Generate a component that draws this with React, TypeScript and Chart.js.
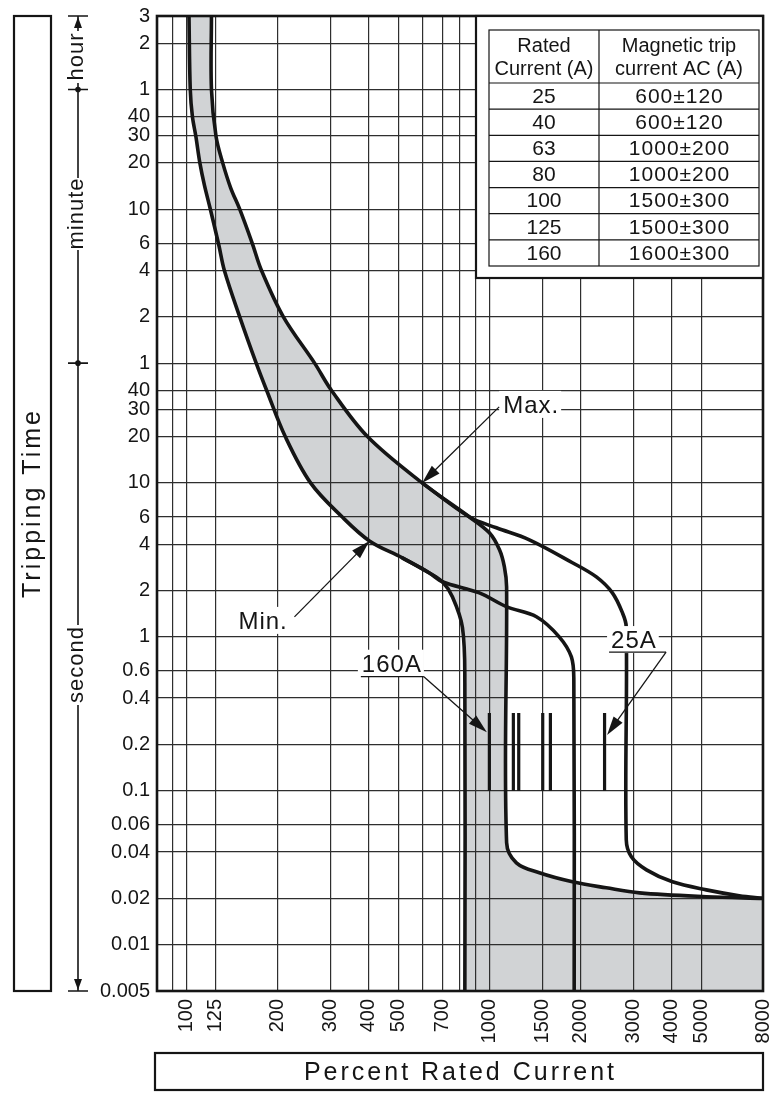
import React, { useEffect, useRef } from 'react';
import { Chart, registerables } from 'chart.js';

Chart.register(...registerables);

// ---------- axis limits ----------
const PCT_MIN = 80;
const PCT_MAX = 8000;
const TIME_MIN = 0.005;
const TIME_MAX = 10800;

// ---------- x axis (percent rated current) ----------
const xGridValues = [80, 90, 100, 125, 200, 300, 400, 500, 600, 700, 800, 900, 1000, 1500, 2000, 3000, 4000, 5000, 8000];
const xTickLabels = [100, 125, 200, 300, 400, 500, 700, 1000, 1500, 2000, 3000, 4000, 5000, 8000];

// ---------- y axis (tripping time, seconds) ----------
const yTickValues = [10800, 7200, 3600, 2400, 1800, 1200, 600, 360, 240, 120, 60, 40, 30, 20, 10, 6, 4, 2, 1, 0.6, 0.4, 0.2, 0.1, 0.06, 0.04, 0.02, 0.01, 0.005];
const yTickLabels = ['3', '2', '1', '40', '30', '20', '10', '6', '4', '2', '1', '40', '30', '20', '10', '6', '4', '2', '1', '0.6', '0.4', '0.2', '0.1', '0.06', '0.04', '0.02', '0.01', '0.005'];
const timeUnitMarks = [3600, 60]; // 1 hour, 1 minute

// ---------- curves: [percent, seconds] ----------
const minCurve160: [number, number][] = [
  [102, 10800], [103, 3600], [104.7, 2400], [107.5, 1780], [110.8, 1200], [114.7, 860], [120, 600],
  [128, 350], [133.5, 240], [150, 120], [170, 60], [184, 40], [212, 20], [257, 10], [327, 6],
  [402, 4.2], [516, 3.26], [634, 2.6], [700, 2.28], [755, 1.82], [815, 1.15], [830, 0.5], [830, 0.005],
];
const minCurve25: [number, number][] = [
  [516, 3.26], [634, 2.6], [700, 2.28], [927, 1.93], [1138, 1.57], [1430, 1.35], [1700, 1.0],
  [1865, 0.74], [1900, 0.526], [1905, 0.005],
];
const maxCurve160: [number, number][] = [
  [121, 10800], [121, 3600], [125.3, 1780], [131.8, 1200], [140, 827], [150, 600], [165, 360],
  [177, 240], [209, 120], [265, 60], [301, 40], [396, 20], [600, 10], [860, 6.0], [1000, 4.74],
  [1080, 3.68], [1121, 2.85], [1140, 2.11], [1140, 0.046], [1228, 0.034], [1462, 0.0293],
  [1880, 0.0256], [2430, 0.0234], [3130, 0.0217], [5200, 0.0205], [8000, 0.02],
];
const maxCurve25: [number, number][] = [
  [600, 10], [860, 6.0], [1055, 5.11], [1355, 4.27], [1880, 3.03], [2255, 2.45], [2547, 1.93],
  [2750, 1.43], [2830, 1.16], [2830, 0.048], [2942, 0.0372], [3300, 0.0306], [4020, 0.0256],
  [5200, 0.0227], [6680, 0.0208], [8000, 0.02],
];

// short marks: nominal magnetic trip points (percent) between two times
const tripBarCurrents = [1000, 1200, 1250, 1500, 1590, 2400];
const tripBarTimes = [0.1, 0.32];

// ---------- table ----------
const tableHeadRated = ['Rated', 'Current (A)'];
const tableHeadTrip = ['Magnetic trip', 'current AC (A)'];
const ratedCurrents = ['25', '40', '63', '80', '100', '125', '160'];
const magneticTrip = ['600±120', '600±120', '1000±200', '1000±200', '1500±300', '1500±300', '1600±300'];

const yTitle = 'Tripping Time';
const xTitle = 'Percent Rated Current';
const unitLabels = ['hour', 'minute', 'second'];

const FONT = "'Liberation Sans', Arial, Helvetica, sans-serif";
const INK = '#151515';
const GRID = '#2e2e2e';
const BAND = '#d1d3d5';

const pts = (a: [number, number][]) => a.map(([x, y]) => ({ x, y }));

function drawArrow(ctx: CanvasRenderingContext2D, x1: number, y1: number, x2: number, y2: number) {
  const len = 19, hw = 5.5;
  const ang = Math.atan2(y2 - y1, x2 - x1);
  const c = Math.cos(ang), s = Math.sin(ang);
  ctx.beginPath();
  ctx.moveTo(x1, y1);
  ctx.lineTo(x2 - c * len * 0.7, y2 - s * len * 0.7);
  ctx.stroke();
  ctx.beginPath();
  ctx.moveTo(x2, y2);
  ctx.lineTo(x2 - c * len - s * hw, y2 - s * len + c * hw);
  ctx.lineTo(x2 - c * len + s * hw, y2 - s * len - c * hw);
  ctx.closePath();
  ctx.fill();
}

function boxedText(ctx: CanvasRenderingContext2D, text: string, x: number, baseline: number) {
  ctx.font = `24px ${FONT}`;
  (ctx as any).letterSpacing = '1px';
  const w = ctx.measureText(text).width;
  ctx.fillStyle = '#fff';
  ctx.fillRect(x - 4, baseline - 22, w + 6, 27);
  ctx.fillStyle = INK;
  ctx.textAlign = 'left';
  ctx.textBaseline = 'alphabetic';
  ctx.fillText(text, x, baseline);
  (ctx as any).letterSpacing = '0px';
  return w;
}

function rotatedText(ctx: CanvasRenderingContext2D, text: string, x: number, y: number, font: string, spacing: number) {
  ctx.save();
  ctx.translate(x, y);
  ctx.rotate(-Math.PI / 2);
  ctx.font = font;
  (ctx as any).letterSpacing = spacing + 'px';
  ctx.textAlign = 'center';
  ctx.textBaseline = 'middle';
  ctx.fillStyle = INK;
  ctx.fillText(text, spacing / 2, 0);
  ctx.restore();
}

const overlayPlugin = {
  id: 'overlay',
  afterDraw(chart: any) {
    const { ctx, chartArea: a, scales } = chart;
    const px = (v: number) => scales.x.getPixelForValue(v);
    const py = (v: number) => scales.y.getPixelForValue(v);
    ctx.save();

    // plot frame
    ctx.strokeStyle = INK;
    ctx.lineWidth = 2.6;
    ctx.strokeRect(a.left, a.top, a.right - a.left, a.bottom - a.top);

    // ---- table ----
    const tL = 476, tT = a.top, tR = a.right, tB = 278;
    ctx.fillStyle = '#fff';
    ctx.fillRect(tL, tT, tR - tL, tB - tT);
    ctx.lineWidth = 2.2;
    ctx.strokeRect(tL, tT, tR - tL, tB - tT);
    const iL = 489, iR = 759, iT = 30, hB = 83, iB = 266, colX = 599;
    const rowH = (iB - hB) / ratedCurrents.length;
    ctx.lineWidth = 1.2;
    ctx.strokeRect(iL, iT, iR - iL, iB - iT);
    ctx.beginPath();
    ctx.moveTo(colX, iT); ctx.lineTo(colX, iB);
    for (let i = 0; i < ratedCurrents.length; i++) {
      const yy = hB + i * rowH;
      ctx.moveTo(iL, yy); ctx.lineTo(iR, yy);
    }
    ctx.stroke();
    ctx.fillStyle = INK;
    ctx.textAlign = 'center';
    ctx.textBaseline = 'alphabetic';
    ctx.font = `20px ${FONT}`;
    const c1 = (iL + colX) / 2, c2 = (colX + iR) / 2;
    tableHeadRated.forEach((t, i) => ctx.fillText(t, c1, 52 + i * 23));
    tableHeadTrip.forEach((t, i) => ctx.fillText(t, c2, 52 + i * 23));
    ctx.font = `21px ${FONT}`;
    ctx.textBaseline = 'middle';
    ratedCurrents.forEach((t, i) => {
      const yy = hB + (i + 0.5) * rowH + 1;
      ctx.fillText(t, c1, yy);
      (ctx as any).letterSpacing = '1px';
      ctx.fillText(magneticTrip[i], c2 + 0.5, yy);
      (ctx as any).letterSpacing = '0px';
    });

    // ---- annotations ----
    ctx.strokeStyle = INK;
    ctx.fillStyle = INK;
    ctx.lineWidth = 1.3;
    // Max.
    {
      const tx = px(600), ty = py(10);
      boxedText(ctx, 'Max.', tx + 81, ty - 70);
      ctx.fillStyle = INK;
      drawArrow(ctx, tx + 77, ty - 76, tx, ty);
    }
    // Min.
    {
      const tx = px(402), ty = py(4.2);
      boxedText(ctx, 'Min.', tx - 131, ty + 88);
      ctx.fillStyle = INK;
      drawArrow(ctx, tx - 75, ty + 76, tx, ty);
    }
    // 160A
    {
      const tx = px(1000) - 2.5, ty = py(0.24);
      const ex = tx - 63, ey = ty - 55.5;
      boxedText(ctx, '160A', ex - 62, ey - 5);
      ctx.fillStyle = INK;
      ctx.beginPath(); ctx.moveTo(ex - 63, ey); ctx.lineTo(ex, ey); ctx.stroke();
      drawArrow(ctx, ex, ey, tx, ty);
    }
    // 25A
    {
      const tx = px(2400) + 2.5, ty = py(0.23);
      const ex = tx + 59, ey = ty - 83;
      boxedText(ctx, '25A', ex - 55, ey - 4);
      ctx.fillStyle = INK;
      ctx.beginPath(); ctx.moveTo(ex - 57, ey); ctx.lineTo(ex, ey); ctx.stroke();
      drawArrow(ctx, ex, ey, tx, ty);
    }

    // ---- left title box ----
    ctx.lineWidth = 2.2;
    ctx.strokeStyle = INK;
    ctx.strokeRect(14, a.top, 37, a.bottom - a.top);
    rotatedText(ctx, yTitle, 33, (a.top + a.bottom) / 2 + 1, `25px ${FONT}`, 3);

    // ---- time-unit bracket ----
    const bx = 78;
    const yTop = py(TIME_MAX), yBot = py(TIME_MIN);
    const yH = py(timeUnitMarks[0]), yM = py(timeUnitMarks[1]);
    ctx.lineWidth = 1.6;
    ctx.beginPath();
    ctx.moveTo(bx, yTop); ctx.lineTo(bx, yBot);
    ctx.moveTo(bx - 10, yTop); ctx.lineTo(bx + 10, yTop);
    ctx.moveTo(bx - 10, yBot); ctx.lineTo(bx + 10, yBot);
    ctx.moveTo(bx - 10, yH); ctx.lineTo(bx + 10, yH);
    ctx.moveTo(bx - 10, yM); ctx.lineTo(bx + 10, yM);
    ctx.stroke();
    ctx.fillStyle = INK;
    [yH, yM].forEach((yy) => { ctx.beginPath(); ctx.arc(bx, yy, 2.8, 0, Math.PI * 2); ctx.fill(); });
    // arrowheads
    ctx.beginPath(); ctx.moveTo(bx, yTop + 1); ctx.lineTo(bx - 4, yTop + 12); ctx.lineTo(bx + 4, yTop + 12); ctx.closePath(); ctx.fill();
    ctx.beginPath(); ctx.moveTo(bx, yBot - 1); ctx.lineTo(bx - 4, yBot - 12); ctx.lineTo(bx + 4, yBot - 12); ctx.closePath(); ctx.fill();
    const unitCenters = [57, 214, 665];
    const unitHalf = [26, 36, 40];
    unitLabels.forEach((t, i) => {
      ctx.fillStyle = '#fff';
      ctx.fillRect(bx - 12, unitCenters[i] - unitHalf[i], 24, unitHalf[i] * 2);
      rotatedText(ctx, t, bx - 1, unitCenters[i], `22px ${FONT}`, 1);
    });

    // ---- bottom title box ----
    ctx.lineWidth = 2.2;
    ctx.strokeStyle = INK;
    ctx.strokeRect(155, 1053, a.right - 155, 37);
    ctx.font = `25px ${FONT}`;
    (ctx as any).letterSpacing = '3px';
    ctx.fillStyle = INK;
    ctx.textAlign = 'center';
    ctx.textBaseline = 'middle';
    ctx.fillText(xTitle, (155 + a.right) / 2 + 1.5, 1073);
    (ctx as any).letterSpacing = '0px';

    ctx.restore();
  },
};

export default function App() {
  const ref = useRef<HTMLCanvasElement>(null);
  useEffect(() => {
    document.body.style.margin = '0';
    const revMax = [...maxCurve160].reverse();
    const lastMin = minCurve160[minCurve160.length - 1];
    const band: [number, number][] = [
      ...minCurve160, lastMin, [PCT_MAX, TIME_MIN], [PCT_MAX, TIME_MIN], revMax[0], ...revMax,
    ];
    const lineDs = (data: [number, number][]) => ({
      data: pts(data),
      borderColor: INK,
      borderWidth: 3.6,
      fill: false,
      tension: 0.35,
      pointRadius: 0,
    });
    const datasets: any[] = [
      { data: pts(band), borderWidth: 0, borderColor: 'rgba(0,0,0,0)', backgroundColor: BAND, fill: 'shape', tension: 0.35, pointRadius: 0 },
      lineDs(minCurve160),
      lineDs(minCurve25),
      lineDs(maxCurve160),
      lineDs(maxCurve25),
      ...tripBarCurrents.map((c) => ({
        data: tripBarTimes.map((t) => ({ x: c, y: t })),
        borderColor: INK, borderWidth: 3.2, fill: false, pointRadius: 0, tension: 0, borderCapStyle: 'butt',
      })),
    ];
    const chart = new Chart(ref.current as HTMLCanvasElement, {
      type: 'line',
      data: { datasets },
      options: {
        responsive: false,
        animation: false,
        devicePixelRatio: 1,
        events: [],
        layout: { padding: { left: 0, top: 16, right: 9, bottom: 42 } },
        plugins: {
          legend: { display: false },
          tooltip: { enabled: false },
          filler: { drawTime: 'beforeDraw' },
        } as any,
        scales: {
          x: {
            type: 'logarithmic',
            min: PCT_MIN,
            max: PCT_MAX,
            afterBuildTicks: (s: any) => { s.ticks = xGridValues.map((v) => ({ value: v })); },
            afterFit: (s: any) => { s.height = 60; s.paddingLeft = 0; s.paddingRight = 0; },
            grid: { color: GRID, lineWidth: 1.2, drawTicks: false },
            border: { display: false },
            ticks: {
              autoSkip: false,
              minRotation: 90,
              maxRotation: 90,
              padding: 8,
              color: INK,
              font: { family: "'Liberation Sans Narrow', 'Liberation Sans', sans-serif", size: 20 },
              callback: (v: any) => (xTickLabels.includes(Number(v)) ? String(v) : ''),
            },
          },
          y: {
            type: 'logarithmic',
            min: TIME_MIN,
            max: TIME_MAX,
            afterBuildTicks: (s: any) => { s.ticks = yTickValues.map((v) => ({ value: v })); },
            afterFit: (s: any) => { s.width = 157; s.paddingTop = 0; s.paddingBottom = 0; },
            grid: { color: GRID, lineWidth: 1.2, drawTicks: false },
            border: { display: false },
            ticks: {
              autoSkip: false,
              padding: 7,
              color: INK,
              font: { family: FONT, size: 20 },
              callback: (_v: any, i: number) => yTickLabels[i],
            },
          },
        } as any,
      },
      plugins: [overlayPlugin],
    } as any);
    return () => chart.destroy();
  }, []);
  return (
    <div style={{ position: 'absolute', left: 0, top: 0, width: 772, height: 1093, background: '#fff' }}>
      <canvas ref={ref} width={772} height={1093} style={{ width: 772, height: 1093, display: 'block' }} />
    </div>
  );
}
